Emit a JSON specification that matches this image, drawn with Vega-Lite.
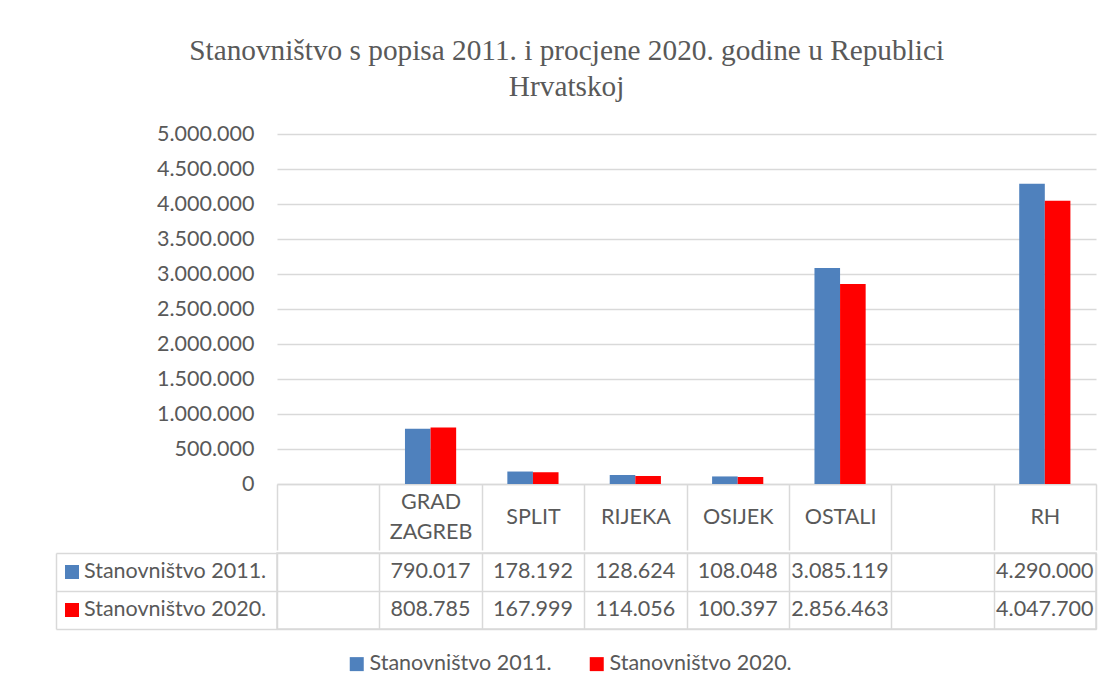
{
  "$schema": "https://vega.github.io/schema/vega-lite/v6.json",
  "padding": {"top": 36, "left": 54, "right": 10, "bottom": 10},
  "background": "white",
  "title": {
    "text": ["Stanovništvo s popisa 2011. i procjene 2020. godine u Republici", "Hrvatskoj"],
    "font": "Liberation Serif",
    "fontSize": 29.3,
    "fontWeight": "normal",
    "color": "#595959",
    "lineHeight": 36,
    "anchor": "middle",
    "offset": 21,
    "dx": -9
  },
  "datasets": {
    "pop": [
      {"cat": "GRAD ZAGREB", "series": "Stanovništvo 2011.", "value": 790017},
      {"cat": "GRAD ZAGREB", "series": "Stanovništvo 2020.", "value": 808785},
      {"cat": "SPLIT", "series": "Stanovništvo 2011.", "value": 178192},
      {"cat": "SPLIT", "series": "Stanovništvo 2020.", "value": 167999},
      {"cat": "RIJEKA", "series": "Stanovništvo 2011.", "value": 128624},
      {"cat": "RIJEKA", "series": "Stanovništvo 2020.", "value": 114056},
      {"cat": "OSIJEK", "series": "Stanovništvo 2011.", "value": 108048},
      {"cat": "OSIJEK", "series": "Stanovništvo 2020.", "value": 100397},
      {"cat": "OSTALI", "series": "Stanovništvo 2011.", "value": 3085119},
      {"cat": "OSTALI", "series": "Stanovništvo 2020.", "value": 2856463},
      {"cat": "RH", "series": "Stanovništvo 2011.", "value": 4290000},
      {"cat": "RH", "series": "Stanovništvo 2020.", "value": 4047700}
    ]
  },
  "vconcat": [
    {
      "width": 819,
      "height": 350,
      "view": {"stroke": null},
      "data": {"name": "pop"},
      "mark": {"type": "bar"},
      "encoding": {
        "x": {
          "field": "cat",
          "type": "nominal",
          "sort": null,
          "scale": {"domain": [" ", "GRAD ZAGREB", "SPLIT", "RIJEKA", "OSIJEK", "OSTALI", "  ", "RH"], "paddingInner": 0, "paddingOuter": 0},
          "axis": {
            "title": null,
            "domainColor": "#d9d9d9",
            "domainWidth": 1.5,
            "tickBand": "extent",
            "tickSize": 66,
            "tickColor": "#d9d9d9",
            "tickWidth": 1.5,
            "labelPadding": {"condition": {"test": "datum.value == 'GRAD ZAGREB'", "value": -48}, "value": -33},
            "labelBaseline": "middle",
            "labelAngle": 0,
            "labelFont": "Lato",
            "labelFontSize": 21.5,
            "labelColor": "#595959",
            "labelLineHeight": 30,
            "labelOverlap": false,
            "labelBound": false,
            "labelFlush": false,
            "labelLimit": 0,
            "labelExpr": "datum.label == 'GRAD ZAGREB' ? ['GRAD', 'ZAGREB'] : datum.label",
            "grid": false
          }
        },
        "xOffset": {
          "field": "series",
          "type": "nominal",
          "scale": {"domain": ["Stanovništvo 2011.", "Stanovništvo 2020."], "paddingInner": 0, "paddingOuter": 1.09}
        },
        "y": {
          "field": "value",
          "type": "quantitative",
          "scale": {"domain": [0, 5000000], "nice": false},
          "axis": {
            "title": null,
            "values": [0, 500000, 1000000, 1500000, 2000000, 2500000, 3000000, 3500000, 4000000, 4500000, 5000000],
            "format": ",d",
            "grid": true,
            "gridColor": "#d9d9d9",
            "gridWidth": 1.5,
            "domain": false,
            "ticks": false,
            "labelPadding": 23,
            "labelFont": "Lato",
            "labelFontSize": 21.5,
            "labelColor": "#595959"
          }
        },
        "color": {
          "field": "series",
          "type": "nominal",
          "scale": {"domain": ["Stanovništvo 2011.", "Stanovništvo 2020."], "range": ["#4f81bd", "#ff0000"]},
          "legend": {
            "title": null,
            "orient": "none",
            "direction": "horizontal",
            "legendX": 69,
            "legendY": 519,
            "symbolType": "square",
            "symbolSize": 196,
            "symbolStrokeWidth": 0,
            "labelFont": "Lato",
            "labelFontSize": 21.5,
            "labelColor": "#595959",
            "labelOffset": 2,
            "columnPadding": 34,
            "padding": 0,
            "labelLimit": 0
          }
        }
      }
    },
    {
      "width": 819,
      "height": 76,
      "view": {"stroke": "#d9d9d9", "strokeWidth": 1.5},
      "data": {"name": "pop"},
      "encoding": {
        "y": {
          "field": "series",
          "type": "nominal",
          "sort": null,
          "scale": {"type": "band", "domain": ["Stanovništvo 2011.", "Stanovništvo 2020."], "paddingInner": 0, "paddingOuter": 0},
          "axis": {
            "title": null,
            "labels": false,
            "ticks": true,
            "tickBand": "extent",
            "tickSize": -221,
            "tickColor": "#d9d9d9",
            "tickWidth": 1.5,
            "domain": true,
            "domainColor": "#d9d9d9",
            "domainWidth": 1.5,
            "offset": 221,
            "grid": true,
            "gridColor": "#d9d9d9",
            "gridWidth": 1.5
          }
        }
      },
      "layer": [
        {
          "mark": {"type": "text", "font": "Lato", "fontSize": 21.5, "color": "#595959"},
          "encoding": {
            "x": {
              "field": "cat",
              "type": "nominal",
              "sort": null,
              "scale": {"type": "band", "domain": [" ", "GRAD ZAGREB", "SPLIT", "RIJEKA", "OSIJEK", "OSTALI", "  ", "RH"], "paddingInner": 0, "paddingOuter": 0},
              "axis": {"title": null, "labels": false, "ticks": false, "domain": false, "grid": true, "tickBand": "extent", "gridColor": "#d9d9d9", "gridWidth": 1.5}
            },
            "text": {"field": "value", "type": "quantitative", "format": ",d"}
          }
        },
        {
          "transform": [{"aggregate": [{"op": "count", "as": "n"}], "groupby": ["series"]}],
          "mark": {"type": "point", "shape": "square", "filled": true, "size": 196, "opacity": 1, "xOffset": -614.5},
          "encoding": {
            "color": {"field": "series", "type": "nominal", "legend": null}
          }
        },
        {
          "transform": [{"aggregate": [{"op": "count", "as": "n"}], "groupby": ["series"]}],
          "mark": {"type": "text", "align": "left", "dx": -602.5, "font": "Lato", "fontSize": 21.5, "color": "#595959"},
          "encoding": {"text": {"field": "series"}}
        }
      ]
    }
  ],
  "spacing": 0,
  "config": {
    "locale": {"number": {"decimal": ",", "thousands": ".", "grouping": [3], "currency": ["", " €"]}},
    "font": "Lato"
  }
}
